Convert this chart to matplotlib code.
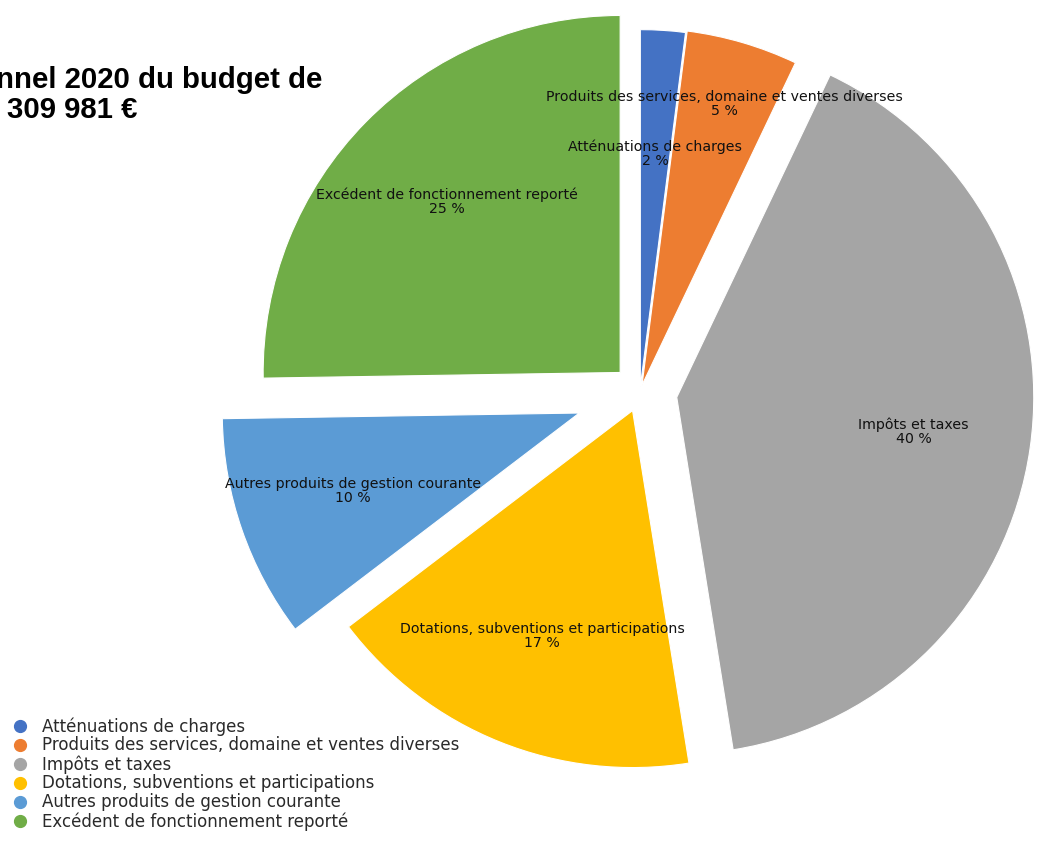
import numpy as np
import matplotlib
matplotlib.use("Agg")
import matplotlib.pyplot as plt
from matplotlib.lines import Line2D

# ---- data ----
categories = [
    "Atténuations de charges",
    "Produits des services, domaine et ventes diverses",
    "Impôts et taxes",
    "Dotations, subventions et participations",
    "Autres produits de gestion courante",
    "Excédent de fonctionnement reporté",
]
percents = [2, 5, 40, 17, 10, 25]
title_line1 = "Budget prévisionnel 2020 du budget de"
title_line2 = "309 981 €"

# ---- style ----
colors = ["#4472C4", "#ED7D31", "#A5A5A5", "#FFC000", "#5B9BD5", "#70AD47"]
explode_frac = [0.015, 0.02, 0.104, 0.056, 0.18, 0.078]
label_dist = [0.655, 0.82, 0.67, 0.68, 0.67, 0.68]
R = 357

W, H = 1040, 843
fig = plt.figure(figsize=(W / 100, H / 100), dpi=100)
ax = fig.add_axes([0, 0, 1, 1])

wedges, _ = ax.pie(
    percents,
    explode=[e * R for e in explode_frac],
    colors=colors,
    startangle=90,
    counterclock=False,
    center=(640, H - 392),
    radius=R,
    wedgeprops=dict(linewidth=0.8, edgecolor="white"),
)
ax.set_xlim(0, W)
ax.set_ylim(0, H)
ax.set_aspect("equal")
ax.axis("off")

for w, cat, p, d in zip(wedges, categories, percents, label_dist):
    mid = np.deg2rad((w.theta1 + w.theta2) / 2)
    cx, cy = w.center
    x = cx + w.r * d * np.cos(mid)
    y = cy + w.r * d * np.sin(mid)
    ax.text(x, y, f"{cat}\n{p} %", ha="center", va="center",
            multialignment="center", fontsize=10.2, color="#111111",
            family="DejaVu Sans", linespacing=1.0)

# title (partly outside the canvas, as in the reference)
ax.text(322, H - 80, title_line1, ha="right", va="center", fontsize=21.2,
        fontweight="bold", family="Liberation Sans", color="black")
ax.text(137, H - 110, title_line2, ha="right", va="center", fontsize=21.2,
        fontweight="bold", family="Liberation Sans", color="black")

fs_leg = 12
fs_px = fs_leg * 100 / 72
handles = [Line2D([0], [0], marker="o", linestyle="none", markersize=8.5,
                  markerfacecolor=c, markeredgecolor=c) for c in colors]
hl = 0.8
x0 = 20 - 0.5 * hl * fs_px
htp = (42 - x0 - hl * fs_px) / fs_px
fig.legend(handles, categories, loc="upper left",
           bbox_to_anchor=(x0 / W, 1 - 717 / H), frameon=False,
           prop=dict(family="DejaVu Sans", size=fs_leg), borderpad=0,
           borderaxespad=0, handlelength=hl, handletextpad=htp,
           labelspacing=0.05, labelcolor="#2a2a2a")

fig.savefig("out.png", dpi=100)
